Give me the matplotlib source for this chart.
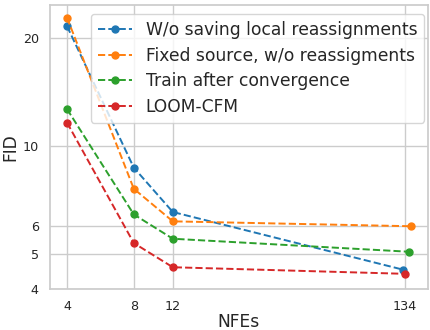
import matplotlib.pyplot as plt
import matplotlib.ticker as mticker
import seaborn as sns

sns.set_theme(style="whitegrid", palette="tab10")

# FID against number of function evaluations
nfe_blue = [4, 8, 12, 131]
nfe_orange = [4, 8, 12, 142]
nfe_green = [4, 8, 12, 139]
nfe_red = [4, 8, 12, 134]

fid_blue = [21.5, 8.7, 6.55, 4.53]
fid_orange = [22.7, 7.6, 6.17, 5.98]
fid_green = [12.65, 6.45, 5.52, 5.08]
fid_red = [11.6, 5.37, 4.6, 4.41]

labels = ["W/o saving local reassignments",
          "Fixed source, w/o reassigments",
          "Train after convergence",
          "LOOM-CFM"]

xticks = [4, 8, 12, 134]
yticks = [4, 5, 6, 10, 20]

fig, ax = plt.subplots(figsize=(4.3, 3.3), dpi=100)
fig.subplots_adjust(left=0.116, right=0.995, top=0.985, bottom=0.124)

series = [(nfe_blue, fid_blue), (nfe_orange, fid_orange),
          (nfe_green, fid_green), (nfe_red, fid_red)]
for (x, y), lab in zip(series, labels):
    ax.plot(x, y, "--o", lw=1.4, ms=5, label=lab)

ax.set_xscale("log")
ax.set_yscale("log")
ax.set_ylim(bottom=4)

ax.xaxis.set_major_locator(mticker.FixedLocator(xticks))
ax.xaxis.set_major_formatter(mticker.FixedFormatter([str(t) for t in xticks]))
ax.xaxis.set_minor_locator(mticker.NullLocator())
ax.yaxis.set_major_locator(mticker.FixedLocator(yticks))
ax.yaxis.set_major_formatter(mticker.FixedFormatter([str(t) for t in yticks]))
ax.yaxis.set_minor_locator(mticker.NullLocator())
ax.tick_params(labelsize=9.2, pad=2)

ax.set_xlabel("NFEs", fontsize=12.3, labelpad=0)
ax.set_ylabel("FID", fontsize=12.3, labelpad=2)
ax.legend(loc="upper right", bbox_to_anchor=(0.99, 0.968), borderaxespad=0,
          fontsize=12.3, handlelength=2.0, handletextpad=0.8,
          labelspacing=0.45)

fig.savefig("out.png", dpi=100)
